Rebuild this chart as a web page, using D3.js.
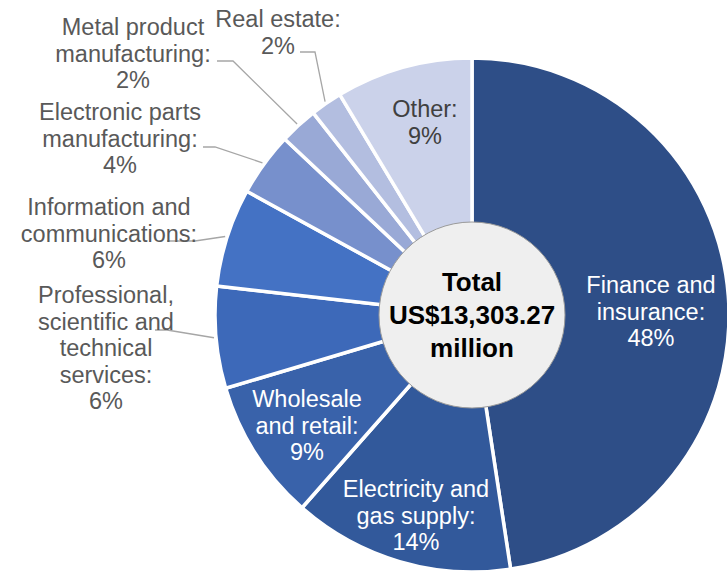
<!DOCTYPE html>
<html>
<head>
<meta charset="utf-8">
<script src="https://cdn.jsdelivr.net/npm/d3@7/dist/d3.min.js"></script>
<style>
  html, body { margin: 0; padding: 0; background: #ffffff; }
  svg { display: block; }
  text { font-family: "Liberation Sans", Arial, sans-serif; }
</style>
</head>
<body>
<svg id="chart" width="727" height="572"></svg>
<script>
// ---- Data ----
const categories = [
  "Finance and insurance",
  "Electricity and gas supply",
  "Wholesale and retail",
  "Professional, scientific and technical services",
  "Information and communications",
  "Electronic parts manufacturing",
  "Metal product manufacturing",
  "Real estate",
  "Other"
];
const shares = [47.6, 13.9, 8.9, 6.4, 6.2, 4.0, 2.4, 2.0, 8.6];
const labelLines = [
  ["Finance and", "insurance:"],
  ["Electricity and", "gas supply:"],
  ["Wholesale", "and retail:"],
  ["Professional,", "scientific and", "technical", "services:"],
  ["Information and", "communications:"],
  ["Electronic parts", "manufacturing:"],
  ["Metal product", "manufacturing:"],
  ["Real estate:"],
  ["Other:"]
];
const centerLines = ["Total", "US$13,303.27", "million"];

// ---- Styles / layout ----
const colors = ["#2e4e87", "#32599b", "#3962aa", "#3d69b9", "#4472c4", "#7790cc", "#99a9d6", "#b3bee0", "#cbd2ea"];
const W = 727, H = 572;
const cx = 472, cy = 315, R = 257, rCenter = 93;
const fontSize = 23.5, lineH = 26.5;
// label placement: inside (centered at given point) or outside with leader
const labelLayout = [
  {inside: true, x: 651, y: 293, color: "#ffffff"},
  {inside: true, x: 416, y: 497, color: "#ffffff"},
  {inside: true, x: 307, y: 407, color: "#ffffff"},
  {inside: false, x: 106, y: 303, lx: 155, ly: 330, ex: 167},
  {inside: false, x: 109, y: 215, lx: 167, ly: 241, ex: 195},
  {inside: false, x: 120, y: 120, lx: 203, ly: 147, ex: 215},
  {inside: false, x: 133, y: 35, lx: 217, ly: 61, ex: 233},
  {inside: false, x: 278, y: 27, lx: 300, ly: 52, ex: 315},
  {inside: true, x: 425, y: 117, color: "#404040"}
];

const svg = d3.select("#chart");
const g = svg.append("g").attr("transform", `translate(${cx},${cy})`);

const pie = d3.pie().sort(null).value(d => d.v);
const data = categories.map((c, i) => ({c, v: shares[i], i}));
const arcs = pie(data);
const arc = d3.arc().innerRadius(0).outerRadius(R);

g.selectAll("path.slice")
  .data(arcs)
  .join("path")
  .attr("class", "slice")
  .attr("d", arc)
  .attr("fill", d => colors[d.index])
  .attr("stroke", "#ffffff")
  .attr("stroke-width", 3.5)
  .attr("stroke-linejoin", "round");

// center circle
g.append("circle")
  .attr("r", rCenter)
  .attr("fill", "#efefef")
  .attr("stroke", "#9a9a9a")
  .attr("stroke-width", 1);

g.selectAll("text.center")
  .data(centerLines)
  .join("text")
  .attr("class", "center")
  .attr("x", 0)
  .attr("y", (d, i) => -24 + i * 33)
  .attr("text-anchor", "middle")
  .attr("font-weight", "bold")
  .attr("font-size", 26)
  .attr("fill", "#000000")
  .text(d => d);

// leader lines for outside labels
arcs.forEach((a, i) => {
  const L = labelLayout[i];
  if (L.inside) return;
  const mid = (a.startAngle + a.endAngle) / 2;
  const px = Math.sin(mid) * (R + 2) + cx;
  const py = -Math.cos(mid) * (R + 2) + cy;
  svg.append("polyline")
    .attr("points", `${L.lx},${L.ly} ${L.ex},${L.ly} ${px},${py}`)
    .attr("fill", "none")
    .attr("stroke", "#a6a6a6")
    .attr("stroke-width", 1.3);
});

// labels
arcs.forEach((a, i) => {
  const L = labelLayout[i];
  const lines = labelLines[i].concat([Math.round(shares[i]) + "%"]);
  const t = svg.append("text")
    .attr("text-anchor", "middle")
    .attr("font-size", fontSize)
    .attr("fill", L.inside ? L.color : "#595959");
  lines.forEach((ln, k) => {
    t.append("tspan")
      .attr("x", L.x)
      .attr("y", L.y + k * lineH)
      .text(ln);
  });
});
</script>
</body>
</html>
